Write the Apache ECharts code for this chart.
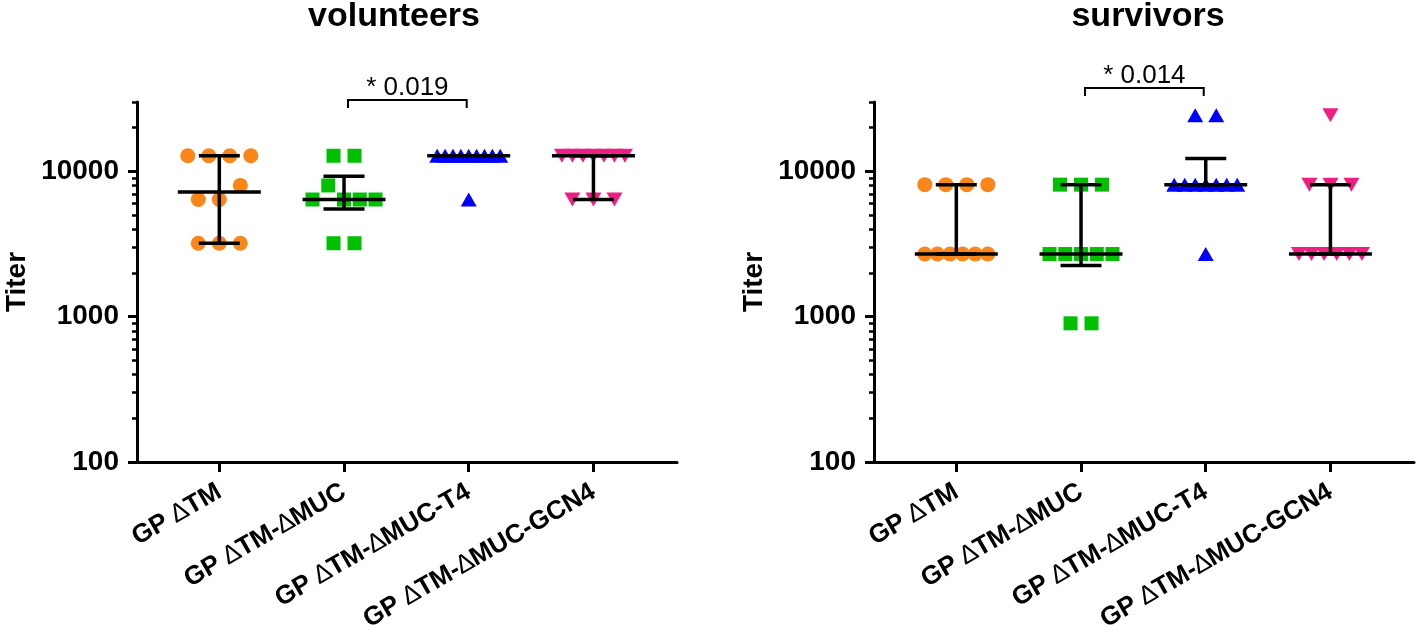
<!DOCTYPE html>
<html>
<head>
<meta charset="utf-8">
<script src="https://cdn.jsdelivr.net/npm/echarts@6/dist/echarts.min.js"></script>
<style>
  html, body { margin: 0; padding: 0; background: #fff; }
  #chart { width: 1417px; height: 636px; }
</style>
</head>
<body>
<div id="chart"></div>
<script>
// Titer dot plots, two panels (volunteers / survivors), median + error bars.

const categories = ['GP ∆TM', 'GP ∆TM-∆MUC', 'GP ∆TM-∆MUC-T4', 'GP ∆TM-∆MUC-GCN4'];

// ── volunteers ──────────────────────────────────────────────
const volTM   = [12800, 12800, 12800, 12800, 6400, 6400, 8000, 3200, 3200, 3200];
const volMUC  = [12800, 12800, 6400, 8000, 6400, 6400, 6400, 3200, 3200];
const volT4   = [12800, 12800, 12800, 12800, 12800, 12800, 12800, 12800, 12800, 6400];
const volGCN4 = [12800, 12800, 12800, 12800, 12800, 12800, 12800, 6400, 6400, 6400];
const volMedian = [7200, 6400, 12800, 12800];
const volLow    = [3200, 5500, 12800, 6400];
const volHigh   = [12800, 9250, 12800, 12800];

// ── survivors ───────────────────────────────────────────────
const survTM   = [8100, 8100, 8100, 8100, 2700, 2700, 2700, 2700, 2700, 2700];
const survMUC  = [8100, 8100, 8100, 2700, 2700, 2700, 2700, 2700, 900, 900];
const survT4   = [24300, 24300, 8100, 8100, 8100, 8100, 8100, 8100, 8100, 2700];
const survGCN4 = [24300, 8100, 8100, 8100, 2700, 2700, 2700, 2700, 2700, 2700];
const survMedian = [2700, 2700, 8100, 2700];
const survLow    = [2700, 2250, 8100, 2700];
const survHigh   = [8100, 8100, 12250, 8100];

// significance brackets: [from category, to category, bracket titer, text]
const volSig  = [[1, 2, 31000, '* 0.019']];
const survSig = [[1, 2, 37500, '* 0.014']];

const majorTicks = [100, 1000, 10000];
const minorTicks = [200, 300, 400, 500, 600, 700, 800, 900,
                    2000, 3000, 4000, 5000, 6000, 7000, 8000, 9000, 20000, 30000];

const COLORS  = ['#FA8518', '#00C000', '#0000FF', '#F01E82'];
const SYMBOLS = ['circle', 'rect', 'triangle', 'triangle'];
const ROTATE  = [0, 0, 0, 180];
const SIZES   = [15, 14, [16, 14], [16, 14]];
const FONT = '"Liberation Sans", Arial, sans-serif';

// GraphPad-style scatter: values within ~0.11 decade share a row and spread out sideways
function swarm(values, ci) {
  const rows = [];
  for (const v of values) {
    const row = rows.find(r => Math.abs(Math.log10(v) - Math.log10(r.ref)) < 0.11);
    if (row) row.items.push(v); else rows.push({ ref: v, items: [v] });
  }
  const out = [];
  for (const r of rows) {
    const n = r.items.length;
    const step = n > 1 ? Math.min(21, 63 / (n - 1)) : 0;
    r.items.forEach((v, i) => out.push({ value: [ci, v], symbolOffset: [(i - (n - 1) / 2) * step, 0] }));
  }
  return out;
}

function scatterSeries(groups, axisIdx) {
  return groups.map((vals, ci) => ({
    type: 'scatter', xAxisIndex: axisIdx, yAxisIndex: axisIdx * 2,
    symbol: SYMBOLS[ci], symbolRotate: ROTATE[ci], symbolSize: SIZES[ci],
    itemStyle: { color: COLORS[ci], opacity: 1 },
    data: swarm(vals, ci), z: 2,
  }));
}

function barSeries(median, low, high, axisIdx) {
  return {
    type: 'custom', xAxisIndex: axisIdx, yAxisIndex: axisIdx * 2, z: 5,
    encode: { x: 0, y: 1 },
    data: median.map((m, i) => [i, m, low[i], high[i]]),
    renderItem(params, api) {
      const pm = api.coord([api.value(0), api.value(1)]);
      const pl = api.coord([api.value(0), api.value(2)]);
      const ph = api.coord([api.value(0), api.value(3)]);
      const st = { stroke: '#000', lineWidth: 3.5 };
      const seg = (x1, y1, x2, y2) => ({ type: 'line', shape: { x1, y1, x2, y2 }, style: st });
      return { type: 'group', children: [
        seg(pm[0], pl[1], pm[0], ph[1]),
        seg(pm[0] - 20.5, pl[1], pm[0] + 20.5, pl[1]),
        seg(pm[0] - 20.5, ph[1], pm[0] + 20.5, ph[1]),
        seg(pm[0] - 41.5, pm[1], pm[0] + 41.5, pm[1]),
      ] };
    },
  };
}

function sigSeries(sig, axisIdx) {
  return {
    type: 'custom', xAxisIndex: axisIdx, yAxisIndex: axisIdx * 2, clip: false, z: 6,
    encode: { x: 0, y: 1 },
    data: sig.map(s => [s[0], s[2], s[1], s[3]]),
    renderItem(params, api) {
      const a = api.coord([api.value(0), api.value(1)]);
      const b = api.coord([api.value(2), api.value(1)]);
      const x1 = a[0] + 4, x2 = b[0] - 2, y = a[1];
      return { type: 'group', children: [
        { type: 'polyline', shape: { points: [[x1, y + 8], [x1, y], [x2, y], [x2, y + 8]] },
          style: { stroke: '#000', lineWidth: 2, fill: 'none' } },
        { type: 'text', style: { text: sig[params.dataIndex][3], x: (x1 + x2) / 2, y: y + 1,
          align: 'center', verticalAlign: 'bottom', fill: '#000',
          font: '26px ' + FONT } },
      ] };
    },
  };
}

function xAxis(gridIndex) {
  return {
    type: 'value', gridIndex, min: -0.66, max: 3.67,
    splitLine: { show: false },
    axisLine: { onZero: false, lineStyle: { color: '#000', width: 3 } },
    axisTick: { customValues: [0, 1, 2, 3], length: 10, lineStyle: { color: '#000', width: 3 } },
    axisLabel: {
      customValues: [0, 1, 2, 3], rotate: 30, margin: 28,
      color: '#000', fontFamily: FONT, fontSize: 26, fontWeight: 'bold',
      formatter: v => categories[Math.round(v)].replace(/∆/g, '{d|∆}'),
      rich: { d: { fontFamily: FONT, fontSize: 26, fontWeight: 'normal', color: '#000' } },
    },
  };
}

function yAxes(gridIndex) {
  const common = { type: 'log', logBase: 10, gridIndex, min: 100, max: 30000, position: 'left',
    splitLine: { show: false } };
  return [
    { ...common,
      name: 'Titer', nameLocation: 'middle', nameGap: 106, nameRotate: 90,
      nameTextStyle: { color: '#000', fontFamily: FONT, fontSize: 28, fontWeight: 'bold' },
      axisLine: { show: true, onZero: false, lineStyle: { color: '#000', width: 3 } },
      axisTick: { customValues: majorTicks, length: 9, lineStyle: { color: '#000', width: 3 } },
      axisLabel: { customValues: majorTicks, margin: 18, color: '#000', fontFamily: FONT,
        fontSize: 28, fontWeight: 'bold', formatter: v => String(Math.round(v)) },
    },
    { ...common, offset: 0,
      axisLine: { show: false, onZero: false },
      axisTick: { customValues: minorTicks, length: 5, lineStyle: { color: '#000', width: 2.5 } },
      axisLabel: { show: false },
    },
  ];
}

const chart = echarts.init(document.getElementById('chart'));
chart.setOption({
  animation: false,
  backgroundColor: '#fff',
  grid: [
    { left: 137, top: 102, width: 540, height: 360 },
    { left: 874, top: 102, width: 540, height: 360 },
  ],
  xAxis: [xAxis(0), xAxis(1)],
  yAxis: [...yAxes(0), ...yAxes(1)],
  graphic: [
    { type: 'text', x: 394, y: 17, style: { text: 'volunteers', align: 'center', verticalAlign: 'middle',
      font: 'bold 34px ' + FONT, fill: '#000' } },
    { type: 'text', x: 1148, y: 17, style: { text: 'survivors', align: 'center', verticalAlign: 'middle',
      font: 'bold 34px ' + FONT, fill: '#000' } },
  ],
  series: [
    ...scatterSeries([volTM, volMUC, volT4, volGCN4], 0),
    barSeries(volMedian, volLow, volHigh, 0),
    sigSeries(volSig, 0),
    ...scatterSeries([survTM, survMUC, survT4, survGCN4], 1),
    barSeries(survMedian, survLow, survHigh, 1),
    sigSeries(survSig, 1),
  ],
});
</script>
</body>
</html>
